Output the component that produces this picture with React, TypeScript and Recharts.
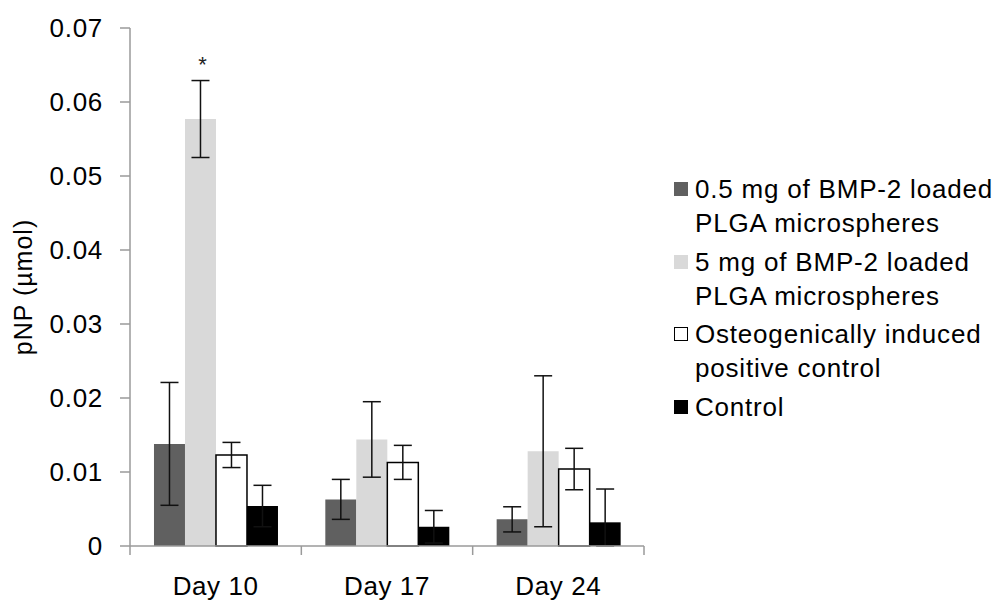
import { BarChart, Bar, XAxis, YAxis, ErrorBar, LabelList } from "recharts";

const DAYS = ["Day 10", "Day 17", "Day 24"];

const LOW_DOSE = [0.0138, 0.0063, 0.0036];
const LOW_DOSE_ERR = [0.0083, 0.0027, 0.0017];
const HIGH_DOSE = [0.0577, 0.0144, 0.0128];
const HIGH_DOSE_ERR = [0.0052, 0.0051, 0.0102];
const POSITIVE = [0.0123, 0.0113, 0.0104];
const POSITIVE_ERR = [0.0017, 0.0023, 0.0028];
const CONTROL = [0.0054, 0.0026, 0.0032];
const CONTROL_ERR = [0.0028, 0.0022, 0.0045];
const SIGNIFICANCE = ["*", "", ""];

const Y_TICKS = [0, 0.01, 0.02, 0.03, 0.04, 0.05, 0.06, 0.07];

const FONT = '"Liberation Sans", Arial, sans-serif';

// error bars never go below zero (lower part of control bar is hidden anyway)
const clipErr = (v: number, e: number) => [Math.min(v, e), e];

const data = DAYS.map((day, i) => ({
  day,
  low: LOW_DOSE[i],
  lowErr: clipErr(LOW_DOSE[i], LOW_DOSE_ERR[i]),
  high: HIGH_DOSE[i],
  highErr: clipErr(HIGH_DOSE[i], HIGH_DOSE_ERR[i]),
  pos: POSITIVE[i],
  posErr: clipErr(POSITIVE[i], POSITIVE_ERR[i]),
  ctrl: CONTROL[i],
  ctrlErr: clipErr(CONTROL[i], CONTROL_ERR[i]),
  sig: SIGNIFICANCE[i],
}));

const SERIES = [
  { key: "low", err: "lowErr", name: "0.5 mg of BMP-2 loaded PLGA microspheres", fill: "#606060", stroke: "none" },
  { key: "high", err: "highErr", name: "5 mg of BMP-2 loaded PLGA microspheres", fill: "#d9d9d9", stroke: "none" },
  { key: "pos", err: "posErr", name: "Osteogenically induced positive control", fill: "#ffffff", stroke: "#000000" },
  { key: "ctrl", err: "ctrlErr", name: "Control", fill: "#000000", stroke: "none" },
];

const AXIS_COLOR = "#9a9a9a";
const X_TICK_SIZE = 9;
const X_TICK_MARGIN = 22;

function DayTick(props: any) {
  const { x, y, payload, index } = props;
  const half = payload?.offset ?? 0;
  const axisY = y - X_TICK_SIZE - X_TICK_MARGIN;
  return (
    <g>
      <line x1={x - half} x2={x - half} y1={axisY} y2={axisY + X_TICK_SIZE} stroke={AXIS_COLOR} strokeWidth={1.5} />
      {index === DAYS.length - 1 && (
        <line x1={x + half} x2={x + half} y1={axisY} y2={axisY + X_TICK_SIZE} stroke={AXIS_COLOR} strokeWidth={1.5} />
      )}
      <text x={x} y={y} dy="0.71em" textAnchor="middle" fill="#000" fontSize={26} fontFamily={FONT} letterSpacing={0.6}>
        {payload.value}
      </text>
    </g>
  );
}

function YTitle(props: any) {
  const vb = props.viewBox || { x: 0, y: 28, width: 130, height: 518 };
  const cx = vb.x + 23;
  const cy = vb.y + vb.height / 2;
  return (
    <text
      x={cx}
      y={cy}
      transform={`rotate(-90 ${cx} ${cy})`}
      textAnchor="middle"
      dominantBaseline="central"
      fill="#000"
      fontSize={25}
      fontFamily={FONT}
      letterSpacing={1}
    >
      pNP (µmol)
    </text>
  );
}

function Star(props: any) {
  const { x, y, width, height, index } = props;
  const label = SIGNIFICANCE[index];
  if (!label) return null;
  const errTop = y - height * (HIGH_DOSE_ERR[index] / HIGH_DOSE[index]);
  return (
    <text x={x + width / 2 + 2} y={errTop - 9} textAnchor="middle" fontSize={22} fontFamily={FONT} fill="#222">
      {label}
    </text>
  );
}

function LegendBox() {
  return (
    <div
      style={{
        position: "absolute",
        left: 674,
        top: 172,
        width: 327,
        fontFamily: FONT,
        fontSize: 26,
        letterSpacing: 0.8,
        lineHeight: "34px",
        color: "#000",
      }}
    >
      {SERIES.map((s) => (
        <div key={s.key} style={{ display: "flex", alignItems: "flex-start", marginBottom: 4.5 }}>
          <div
            style={{
              width: s.stroke === "none" ? 14 : 12,
              height: s.stroke === "none" ? 14 : 12,
              marginTop: 10,
              marginRight: 7,
              flexShrink: 0,
              background: s.fill,
              border: s.stroke === "none" ? "none" : `1px solid ${s.stroke}`,
            }}
          />
          <div style={{ width: 306 }}>{s.name}</div>
        </div>
      ))}
    </div>
  );
}

export default function App() {
  return (
    <div style={{ position: "absolute", left: 0, top: 0, width: 1001, height: 601, background: "#fff" }}>
      <BarChart
        width={1001}
        height={601}
        data={data}
        margin={{ top: 28, right: 357, bottom: 0, left: 0 }}
        barCategoryGap="14%"
        barGap={0}
      >
        <XAxis
          dataKey="day"
          height={55}
          stroke={AXIS_COLOR}
          strokeWidth={1.5}
          tickLine={false}
          tickSize={X_TICK_SIZE}
          tickMargin={X_TICK_MARGIN}
          tick={<DayTick />}
          interval={0}
        />
        <YAxis
          width={130}
          domain={[0, 0.07]}
          ticks={Y_TICKS}
          interval={0}
          stroke={AXIS_COLOR}
          strokeWidth={1.5}
          tickSize={10}
          tickMargin={17}
          tick={{ fill: "#000", fontSize: 26, fontFamily: FONT, letterSpacing: 0.7 }}
          tickFormatter={(v: number) => (v === 0 ? "0" : v.toFixed(2))}
          label={<YTitle />}
        />
        {SERIES.map((s) => (
          <Bar
            key={s.key}
            dataKey={s.key}
            name={s.name}
            fill={s.fill}
            stroke={s.stroke}
            strokeWidth={s.stroke === "none" ? 0 : 1.5}
            isAnimationActive={false}
          >
            <ErrorBar dataKey={s.err} width={9} stroke="#111" strokeWidth={1.5} direction="y" />
            {s.key === "high" && <LabelList dataKey="sig" content={<Star />} />}
          </Bar>
        ))}
      </BarChart>
      <LegendBox />
    </div>
  );
}
